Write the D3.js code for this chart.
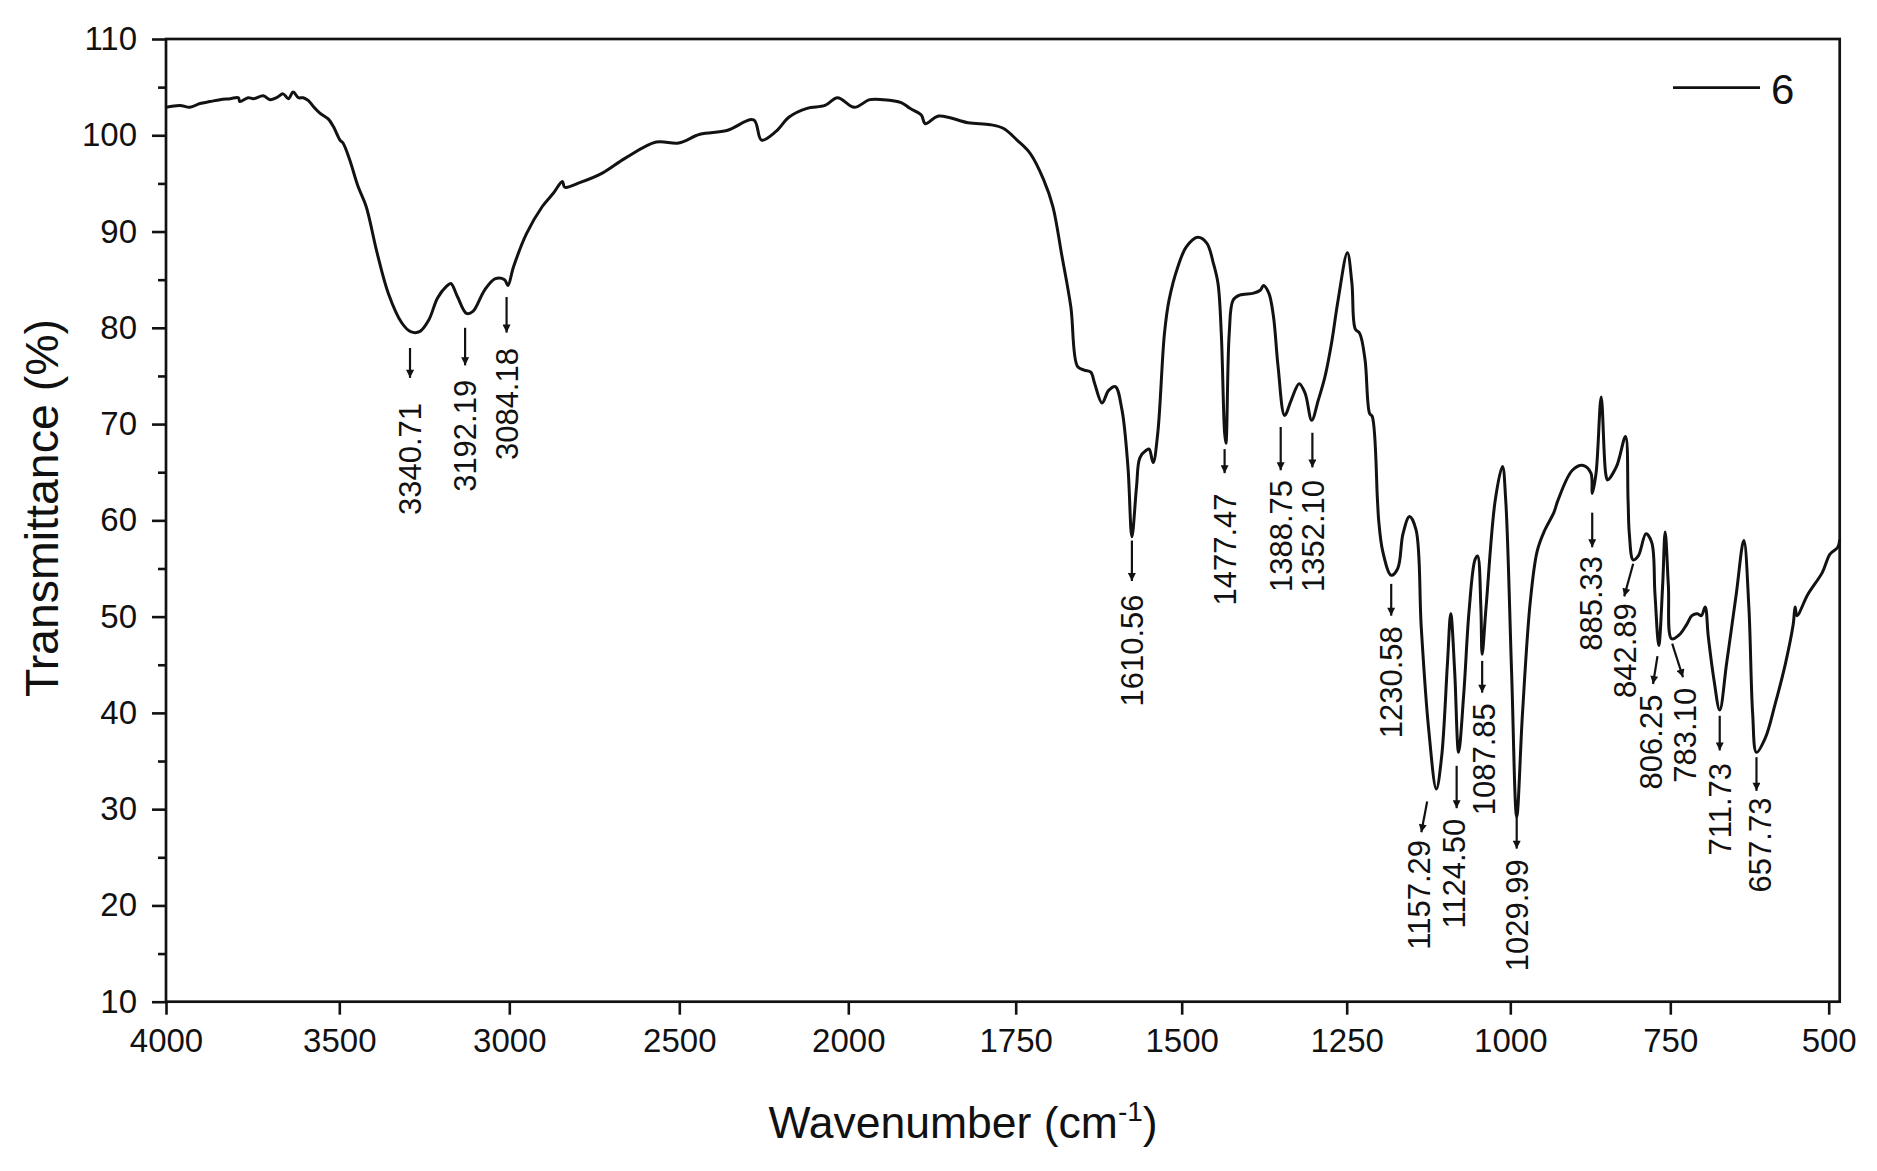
<!DOCTYPE html>
<html><head><meta charset="utf-8">
<script src="https://cdn.jsdelivr.net/npm/d3@7"></script>
<style>
html,body{margin:0;padding:0;background:#fff;}
svg{display:block;}
text{font-family:"Liberation Sans", Arial, Helvetica, sans-serif; fill:#111;}
</style></head><body>
<svg id="chart" width="1877" height="1171"></svg>
<script>
// ---------------- data ----------------
const wavenumber = [4000,3960,3931,3902,3873,3844,3815,3791,3787,3763,3748,3719,3700,3681,3662,3647,3633,3618,3604,3589,3575,3556,3532,3517,3498,3489,3469,3445,3421,3389,3356,3316,3290,3264,3237,3211,3185,3172,3152,3126,3107,3073,3041,3014,3004,2988,2949,2903,2870,2844,2837,2791,2725,2660,2568,2502,2439,2359,2280,2257,2214,2175,2122,2069,2032,1991,1968,1948,1921,1908,1891,1885,1865,1821,1788,1768,1748,1728,1708,1694,1681,1667,1657,1647,1637,1631,1620,1610,1600,1590,1581,1575,1568,1563,1553,1549,1543,1536,1526,1519,1506,1493,1476,1462,1452,1445,1440,1435,1433,1428,1422,1412,1391,1381,1376,1368,1361,1354,1344,1334,1322,1313,1303,1293,1283,1273,1263,1249,1242,1237,1230,1222,1215,1211,1203,1201,1195,1182,1172,1164,1154,1144,1136,1125,1113,1105,1096,1091,1085,1079,1071,1063,1054,1050,1045,1043,1037,1023,1012,1007,998,990,981,969,958,946,932,926,903,886,874,872,866,858,851,848,834,820,816,814,808,800,788,779,774,768,762,758,753,748,736,724,716,707,701,695,690,681,672,661,646,634,626,620,614,600,585,568,556,553,550,533,510,498,486,483];
const transmittance = [102.9,103.1,102.9,103.3,103.5,103.7,103.8,103.9,103.5,103.9,103.8,104.1,103.7,103.9,104.3,103.8,104.5,103.9,103.9,103.6,103.0,102.3,101.7,100.9,99.5,99.2,97.4,94.7,92.6,87.8,83.6,80.5,79.6,79.6,80.8,83.1,84.3,84.6,83.2,81.5,81.7,83.9,85.1,85.0,84.4,86.3,89.8,92.6,94.0,95.2,94.6,95.1,96.1,97.6,99.3,99.2,100.1,100.5,101.6,99.5,100.4,101.9,102.8,103.1,103.9,102.9,103.7,103.7,103.4,102.8,102.1,101.2,102.0,101.3,101.1,100.7,99.5,98.1,95.4,92.6,87.7,82.2,76.0,75.6,75.4,74.2,72.2,73.5,73.9,71.5,65.6,58.3,63.5,66.5,67.3,67.4,66.0,69.1,79.4,82.9,86.3,88.4,89.4,88.8,86.7,84.6,79.4,69.1,68.0,79.4,82.9,83.4,83.6,83.9,84.4,83.6,81.2,76.0,70.9,72.5,74.2,73.2,70.4,72.5,74.9,78.4,82.9,87.8,84.6,79.9,79.4,76.7,71.1,70.8,62.1,59.9,56.8,54.3,55.0,58.6,60.4,59.0,48.8,38.5,32.1,35.4,45.2,50.3,44.3,35.9,42.1,50.6,55.9,56.3,51.0,46.1,51.0,62.1,65.6,62.1,44.3,29.2,39.9,51.4,56.8,59.0,60.8,62.0,65.2,65.7,64.9,62.8,64.9,72.8,64.9,64.2,65.6,68.7,62.1,58.6,55.9,56.3,58.6,57.7,52.4,47.0,53.2,58.8,53.2,47.7,48.1,49.2,50.1,50.3,50.1,51.0,47.9,43.4,40.3,45.2,52.3,57.9,51.0,39.9,35.9,37.4,40.8,45.2,49.2,51.0,50.1,52.3,54.6,56.5,57.2,58.0];

const xTickValues = [4000,3500,3000,2500,2000,1750,1500,1250,1000,750,500];
const yTickValues = [10,20,30,40,50,60,70,80,90,100,110];
const yMinorTicks = [15,25,35,45,55,65,75,85,95,105];

// peak annotations (arrow start/end and label anchor in data units)
const peakLabels   = ["3340.71","3192.19","3084.18","1610.56","1477.47","1388.75","1352.10","1230.58","1157.29","1124.50","1087.85","1029.99","885.33","842.89","806.25","783.10","711.73","657.73"];
const peakArrowX0  = [3292,3130,3008,1575,1435,1350,1302,1182,1127,1082,1043,990,872,808,770,747,672,614];
const peakArrowX1  = [3292,3130,3008,1575,1435,1350,1302,1182,1136,1082,1043,990,872,822,777,730,672,614];
const peakArrowT0  = [77.9,80.0,83.2,57.9,67.4,69.7,69.1,53.4,30.8,34.5,45.4,29.2,60.8,55.5,45.9,47.2,39.7,35.4];
const peakArrowT1  = [74.8,76.1,79.5,53.7,64.9,65.2,65.5,50.1,27.6,30.1,42.1,25.9,57.2,52.1,43.0,43.7,36.1,31.9];
const peakTextX    = [3292,3130,3008,1575,1435,1350,1302,1182,1140,1086,1040,990,874,821,780,727,672,608];
const peakTextT    = [72.2,74.6,77.9,52.3,62.8,64.2,64.2,49.0,26.8,29.0,41.0,24.8,56.3,51.4,41.9,42.6,34.8,31.2];

const seriesName = "6";
const xTitle = "Wavenumber (cm";
const xTitleSup = "-1";
const yTitle = "Transmittance (%)";

// ---------------- drawing ----------------
(function(){
const svg = d3.select("#chart");
svg.append("rect").attr("width",1877).attr("height",1171).attr("fill","#fff");

const pL = 166, pR = 1839.7, pT = 39, pB = 1001.7;
const x = d3.scaleLinear()
  .domain([4000,3500,3000,2500,2000,1750,1500,1250,1000,750,500,483])
  .range([166,339.3,509.3,679.3,848.3,1015.7,1181.7,1346.7,1510.3,1670.3,1828.7,1839.7]);
const y = d3.scaleLinear().domain([10,110]).range([pB, pT]);

const ink = "#121212";

// x axis
const xAxis = svg.append("g").attr("transform",`translate(0,${pB})`)
  .call(d3.axisBottom(x).tickValues(xTickValues).tickSize(13).tickSizeOuter(0).tickPadding(14).tickFormat(d3.format("d")));
xAxis.select(".domain").remove();
xAxis.selectAll(".tick line").attr("stroke",ink).attr("stroke-width",2.6);
xAxis.selectAll(".tick text").attr("font-size",33).attr("font-family","Liberation Sans, Arial, sans-serif").attr("fill",ink);

// y axis
const yAxis = svg.append("g").attr("transform",`translate(${pL},0)`)
  .call(d3.axisLeft(y).tickValues(yTickValues).tickSize(14).tickSizeOuter(0).tickPadding(15).tickFormat(d3.format("d")));
yAxis.select(".domain").remove();
yAxis.selectAll(".tick line").attr("stroke",ink).attr("stroke-width",2.6);
yAxis.selectAll(".tick text").attr("font-size",33).attr("font-family","Liberation Sans, Arial, sans-serif").attr("fill",ink);

const yMinor = svg.append("g").attr("transform",`translate(${pL},0)`)
  .call(d3.axisLeft(y).tickValues(yMinorTicks).tickSize(8).tickSizeOuter(0).tickFormat(""));
yMinor.select(".domain").remove();
yMinor.selectAll(".tick line").attr("stroke",ink).attr("stroke-width",2.6);

// frame
svg.append("rect").attr("x",pL).attr("y",pT).attr("width",pR-pL).attr("height",pB-pT)
  .attr("fill","none").attr("stroke",ink).attr("stroke-width",2.7);

// spectrum
const pts = wavenumber.map((w,i)=>[w, transmittance[i]]);
svg.append("path").datum(pts)
  .attr("fill","none").attr("stroke",ink).attr("stroke-width",3).attr("stroke-linejoin","round")
  .attr("d", d3.line().curve(d3.curveCatmullRom.alpha(0.5)).x(d=>x(d[0])).y(d=>y(d[1])));

// arrow marker
svg.append("defs").append("marker").attr("id","ah")
  .attr("viewBox","0 0 10 10").attr("refX",10).attr("refY",5)
  .attr("markerUnits","userSpaceOnUse").attr("markerWidth",10).attr("markerHeight",8).attr("orient","auto")
  .append("path").attr("d","M0,0 L10,5 L0,10 z").attr("fill",ink);

const ann = svg.append("g");
peakLabels.forEach((lab,i)=>{
  ann.append("line")
    .attr("x1",x(peakArrowX0[i])).attr("y1",y(peakArrowT0[i]))
    .attr("x2",x(peakArrowX1[i])).attr("y2",y(peakArrowT1[i]))
    .attr("stroke",ink).attr("stroke-width",2.2).attr("marker-end","url(#ah)");
  ann.append("text")
    .attr("transform",`translate(${x(peakTextX[i])},${y(peakTextT[i])}) rotate(-90)`)
    .attr("text-anchor","end").attr("dy","0.36em")
    .attr("font-size",31).attr("fill",ink).text(lab);
});

// legend
svg.append("line").attr("x1",1673).attr("x2",1760).attr("y1",87.7).attr("y2",87.7)
  .attr("stroke",ink).attr("stroke-width",2.8);
svg.append("text").attr("x",1771).attr("y",104).attr("font-size",42).attr("fill",ink).text(seriesName);

// axis titles
const xt = svg.append("text").attr("x",963).attr("y",1138).attr("text-anchor","middle")
  .attr("font-size",44.5).attr("fill",ink);
xt.append("tspan").text(xTitle);
xt.append("tspan").attr("font-size",28).attr("dy",-17).text(xTitleSup);
xt.append("tspan").attr("dy",17).text(")");

svg.append("text").attr("transform","translate(58,508) rotate(-90)")
  .attr("text-anchor","middle").attr("font-size",46.5).attr("fill",ink).text(yTitle);
})();
</script>
</body></html>
